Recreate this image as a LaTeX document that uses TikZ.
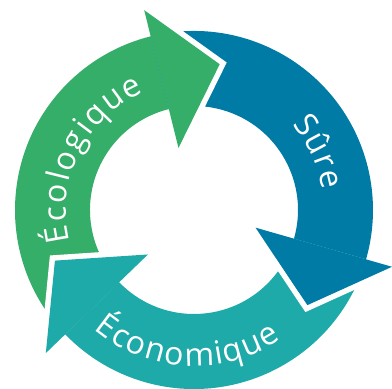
\documentclass[tikz,border=0pt]{standalone}
\usepackage{fontspec}
\setsansfont{Open Sans}
\usetikzlibrary{decorations.text}
\definecolor{ecoGreen}{RGB}{52,174,104}
\definecolor{sureBlue}{RGB}{0,123,166}
\definecolor{ecoTeal}{RGB}{31,170,170}
\begin{document}
\begin{tikzpicture}[x=1pt, y=1pt, font=\sffamily,
	arctext/.style={decorate, decoration={text along path, text align={fit to path}, text color=white,
		text={|\sffamily\fontsize{32}{34}\selectfont|#1}}}]
	\useasboundingbox (-194,-179) rectangle (198,210);
	%shafts
	\foreach \b/\c in {104/ecoGreen, -16/sureBlue, 224/ecoTeal}
	\fill[\c] (\b:104) arc[start angle=\b, end angle=\b+120, radius=104]
	-- (\b+120:179) arc[start angle=\b+120, end angle=\b, radius=179] -- cycle;
	%heads
	\foreach \b/\c in {104/ecoGreen, -16/sureBlue, 224/ecoTeal}{
		\draw[white, line width=11pt] (\b:206) -- (\b-24:148) -- (\b:64);
		\fill[\c] (\b:206) -- (\b-24:148) -- (\b:64) -- cycle;
	}
	%labels
	\path[arctext=Écologique] (194:128) arc[start angle=194, end angle=113, radius=128];
	\path[arctext=Sûre] (41:130) arc[start angle=41, end angle=9, radius=130];
	\path[arctext=Économique] (230:156) arc[start angle=230, end angle=304, radius=156];
\end{tikzpicture}
\end{document}
